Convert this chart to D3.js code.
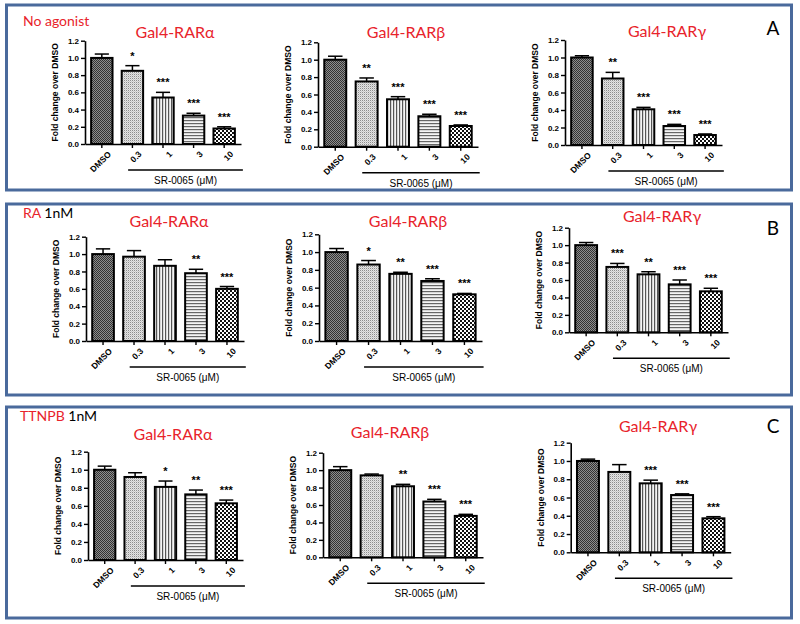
<!DOCTYPE html>
<html>
<head>
<meta charset="utf-8">
<script src="https://cdn.jsdelivr.net/npm/d3@7"></script>
<style>
  html, body { margin: 0; padding: 0; background: #fff; }
  svg { display: block; }
</style>
</head>
<body>
<svg id="chart" width="800" height="624"></svg>
<script>
// ---------------- DATA ----------------
const categories = ["DMSO", "0.3", "1", "3", "10"];
const yTicks = [0, 0.2, 0.4, 0.6, 0.8, 1.0, 1.2];
const receptorTitles = ["Gal4-RARα", "Gal4-RARβ", "Gal4-RARγ"];
const conditionRed = ["No agonist", "RA", "TTNPB"];
const conditionBlack = ["", " 1nM", " 1nM"];
const rowLetters = ["A", "B", "C"];
const compoundLabel = "SR-0065 (μM)";
const yAxisLabel = "Fold change over DMSO";

// Row A : no agonist
const noAgonistAlpha = [1.00, 0.85, 0.54, 0.33, 0.18];
const noAgonistAlphaErr = [0.045, 0.06, 0.06, 0.027, 0.02];
const noAgonistAlphaSig = ["", "*", "***", "***", "***"];
const noAgonistBeta = [1.00, 0.75, 0.545, 0.35, 0.238];
const noAgonistBetaErr = [0.04, 0.04, 0.03, 0.023, 0.012];
const noAgonistBetaSig = ["", "**", "***", "***", "***"];
const noAgonistGamma = [1.00, 0.76, 0.408, 0.217, 0.114];
const noAgonistGammaErr = [0.02, 0.07, 0.022, 0.019, 0.012];
const noAgonistGammaSig = ["", "**", "***", "***", "***"];

// Row B : RA 1nM
const raAlpha = [1.00, 0.97, 0.865, 0.78, 0.60];
const raAlphaErr = [0.06, 0.07, 0.07, 0.045, 0.027];
const raAlphaSig = ["", "", "", "**", "***"];
const raBeta = [1.00, 0.86, 0.755, 0.675, 0.525];
const raBetaErr = [0.04, 0.045, 0.018, 0.025, 0.01];
const raBetaSig = ["", "*", "**", "***", "***"];
const raGamma = [1.00, 0.75, 0.665, 0.55, 0.47];
const raGammaErr = [0.03, 0.04, 0.03, 0.05, 0.035];
const raGammaSig = ["", "***", "**", "***", "***"];

// Row C : TTNPB 1nM
const ttnpbAlpha = [1.00, 0.92, 0.81, 0.727, 0.628];
const ttnpbAlphaErr = [0.04, 0.047, 0.065, 0.048, 0.036];
const ttnpbAlphaSig = ["", "", "*", "**", "***"];
const ttnpbBeta = [1.00, 0.94, 0.815, 0.64, 0.475];
const ttnpbBetaErr = [0.04, 0.015, 0.022, 0.025, 0.018];
const ttnpbBetaSig = ["", "", "**", "***", "***"];
const ttnpbGamma = [1.00, 0.88, 0.755, 0.627, 0.372];
const ttnpbGammaErr = [0.02, 0.08, 0.035, 0.013, 0.018];
const ttnpbGammaSig = ["", "", "***", "***", "***"];

const seriesGrid = [
  [[noAgonistAlpha, noAgonistAlphaErr, noAgonistAlphaSig],
   [noAgonistBeta, noAgonistBetaErr, noAgonistBetaSig],
   [noAgonistGamma, noAgonistGammaErr, noAgonistGammaSig]],
  [[raAlpha, raAlphaErr, raAlphaSig],
   [raBeta, raBetaErr, raBetaSig],
   [raGamma, raGammaErr, raGammaSig]],
  [[ttnpbAlpha, ttnpbAlphaErr, ttnpbAlphaSig],
   [ttnpbBeta, ttnpbBetaErr, ttnpbBetaSig],
   [ttnpbGamma, ttnpbGammaErr, ttnpbGammaSig]]
];

// ---------------- LAYOUT ----------------
const rowBoxes = [
  {y0: 5, y1: 190, condY: 26, condX: 23, letterY: 35},
  {y0: 204, y1: 395, condY: 218, condX: 23, letterY: 235},
  {y0: 407, y1: 618, condY: 421, condX: 20, letterY: 433}
];
const plotLayout = [
  [{x: 85, base: 144, top: 40.7, w: 156, tx: 175, ty: 38},
   {x: 318, base: 146.7, top: 42.3, w: 160, tx: 406, ty: 38},
   {x: 565, base: 145, top: 40, w: 157, tx: 667, ty: 37}],
  [{x: 86, base: 341, top: 236.7, w: 158, tx: 169, ty: 227},
   {x: 319, base: 341, top: 234.3, w: 163, tx: 408, ty: 227},
   {x: 569, base: 332.3, top: 227.7, w: 159, tx: 662, ty: 222}],
  [{x: 88, base: 560, top: 451.7, w: 155, tx: 173, ty: 440},
   {x: 323, base: 557.3, top: 452.7, w: 160, tx: 390, ty: 437.7},
   {x: 570.7, base: 552.3, top: 442.7, w: 160, tx: 658, ty: 432}]
];

const RED = "#e8232b";
const BLUE = "#4a6a9c";
const SANS = "'Liberation Sans', Arial, sans-serif";
const TITLEFONT = "Lato, 'Open Sans', sans-serif";

const svg = d3.select("#chart");

// ---------------- PATTERNS ----------------
const defs = svg.append("defs");
// DMSO: dark dense crosshatch
let p = defs.append("pattern").attr("id", "pat0").attr("patternUnits", "userSpaceOnUse")
  .attr("width", 2).attr("height", 2);
p.append("rect").attr("width", 2).attr("height", 2).attr("fill", "#8e8e8e");
p.append("rect").attr("width", 1).attr("height", 1).attr("fill", "#333");
p.append("rect").attr("x", 1).attr("y", 1).attr("width", 1).attr("height", 1).attr("fill", "#333");
// 0.3: light grey fine texture
p = defs.append("pattern").attr("id", "pat1").attr("patternUnits", "userSpaceOnUse")
  .attr("width", 2).attr("height", 2);
p.append("rect").attr("width", 2).attr("height", 2).attr("fill", "#e4e4e4");
p.append("rect").attr("width", 1).attr("height", 1).attr("fill", "#8c8c8c");
p.append("rect").attr("x", 1).attr("y", 1).attr("width", 1).attr("height", 1).attr("fill", "#c8c8c8");
// 1: vertical lines
p = defs.append("pattern").attr("id", "pat2").attr("patternUnits", "userSpaceOnUse")
  .attr("width", 3).attr("height", 3);
p.append("rect").attr("width", 3).attr("height", 3).attr("fill", "#f4f4f4");
p.append("rect").attr("x", 0).attr("width", 1.2).attr("height", 3).attr("fill", "#555");
// 3: horizontal lines
p = defs.append("pattern").attr("id", "pat3").attr("patternUnits", "userSpaceOnUse")
  .attr("width", 3).attr("height", 3);
p.append("rect").attr("width", 3).attr("height", 3).attr("fill", "#f4f4f4");
p.append("rect").attr("y", 0).attr("width", 3).attr("height", 1.2).attr("fill", "#666");
// 10: checkerboard
p = defs.append("pattern").attr("id", "pat4").attr("patternUnits", "userSpaceOnUse")
  .attr("width", 4).attr("height", 4);
p.append("rect").attr("width", 4).attr("height", 4).attr("fill", "#fff");
p.append("rect").attr("width", 2).attr("height", 2).attr("fill", "#111");
p.append("rect").attr("x", 2).attr("y", 2).attr("width", 2).attr("height", 2).attr("fill", "#111");

// ---------------- ROW BOXES ----------------
rowBoxes.forEach((rb, r) => {
  svg.append("rect")
    .attr("x", 6.5).attr("y", rb.y0)
    .attr("width", 785).attr("height", rb.y1 - rb.y0)
    .attr("fill", "none").attr("stroke", BLUE).attr("stroke-width", 3);
  const t = svg.append("text")
    .attr("x", rb.condX).attr("y", rb.condY)
    .attr("font-family", TITLEFONT).attr("font-size", 14);
  t.append("tspan").attr("fill", RED).text(conditionRed[r]);
  t.append("tspan").attr("fill", "#000").text(conditionBlack[r]);
  svg.append("text")
    .attr("x", 773).attr("y", rb.letterY)
    .attr("text-anchor", "middle")
    .attr("font-family", TITLEFONT).attr("font-size", 19)
    .attr("fill", "#000").text(rowLetters[r]);
});

// ---------------- SUBPLOTS ----------------
seriesGrid.forEach((row, r) => {
  row.forEach((ser, c) => {
    const [vals, errs, sig] = ser;
    const L = plotLayout[r][c];
    const g = svg.append("g");

    const x = d3.scaleBand().domain(categories)
      .range([L.x, L.x + L.w]).paddingInner(0.3).paddingOuter(0.2);
    const y = d3.scaleLinear().domain([0, 1.2]).range([L.base, L.top]);

    const data = categories.map((cat, i) => ({cat, i, v: vals[i], e: errs[i], s: sig[i]}));

    // error bars (upper only)
    const cap = x.bandwidth() * 0.33;
    const eb = g.append("g").attr("stroke", "#000").attr("stroke-width", 1.5);
    eb.selectAll("line.v").data(data).join("line")
      .attr("x1", d => x(d.cat) + x.bandwidth() / 2)
      .attr("x2", d => x(d.cat) + x.bandwidth() / 2)
      .attr("y1", d => y(d.v)).attr("y2", d => y(d.v + d.e));
    eb.selectAll("line.c").data(data).join("line")
      .attr("x1", d => x(d.cat) + x.bandwidth() / 2 - cap)
      .attr("x2", d => x(d.cat) + x.bandwidth() / 2 + cap)
      .attr("y1", d => y(d.v + d.e)).attr("y2", d => y(d.v + d.e));

    // bars
    g.selectAll("rect.bar").data(data).join("rect")
      .attr("class", "bar")
      .attr("x", d => x(d.cat)).attr("width", x.bandwidth())
      .attr("y", d => y(d.v)).attr("height", d => y(0) - y(d.v))
      .attr("fill", d => `url(#pat${d.i})`)
      .attr("stroke", "#000").attr("stroke-width", 2);

    // significance
    g.selectAll("text.sig").data(data).join("text")
      .attr("x", d => x(d.cat) + x.bandwidth() / 2)
      .attr("y", d => y(d.v + d.e) - 6)
      .attr("text-anchor", "middle")
      .attr("font-family", SANS).attr("font-weight", "bold").attr("font-size", 11)
      .text(d => d.s);

    // y axis
    const ya = g.append("g").attr("transform", `translate(${L.x},0)`)
      .call(d3.axisLeft(y).tickValues(yTicks).tickFormat(d3.format(".1f"))
        .tickSize(4).tickSizeOuter(0).tickPadding(2));
    ya.select(".domain").attr("stroke-width", 1.6);
    ya.selectAll(".tick line").attr("stroke-width", 1.4);
    ya.selectAll(".tick text").attr("font-family", SANS).attr("font-weight", "bold")
      .attr("font-size", 8).attr("fill", "#000");

    // x axis
    const xa = g.append("g").attr("transform", `translate(0,${L.base})`)
      .call(d3.axisBottom(x).tickSize(4).tickSizeOuter(0).tickPadding(3));
    xa.select(".domain").attr("stroke-width", 1.6);
    xa.selectAll(".tick line").attr("stroke-width", 1.4);
    xa.selectAll(".tick text")
      .attr("font-family", SANS).attr("font-weight", "bold").attr("font-size", 8.5)
      .attr("fill", "#000")
      .attr("text-anchor", "end")
      .attr("dy", "0.3em")
      .attr("transform", "translate(3,4) rotate(-45)");

    // y-axis title
    g.append("text")
      .attr("transform", `translate(${L.x - 27},${(L.base + L.top) / 2}) rotate(-90)`)
      .attr("text-anchor", "middle")
      .attr("font-family", SANS).attr("font-weight", "bold").attr("font-size", 8.5)
      .text(yAxisLabel);

    // compound bracket
    const bx1 = x("0.3") + x.bandwidth() * 0.3;
    const bx2 = x("10") + x.bandwidth() + 8;
    const by = L.base + 26;
    g.append("line")
      .attr("x1", bx1).attr("x2", bx2).attr("y1", by).attr("y2", by)
      .attr("stroke", "#000").attr("stroke-width", 1.5);
    g.append("text")
      .attr("x", (bx1 + bx2) / 2).attr("y", by + 14)
      .attr("text-anchor", "middle")
      .attr("font-family", SANS).attr("font-size", 10)
      .text(compoundLabel);

    // receptor title
    g.append("text")
      .attr("x", L.tx).attr("y", L.ty)
      .attr("text-anchor", "middle")
      .attr("font-family", TITLEFONT).attr("font-size", 16)
      .attr("fill", RED)
      .text(receptorTitles[c]);
  });
});
</script>
</body>
</html>
